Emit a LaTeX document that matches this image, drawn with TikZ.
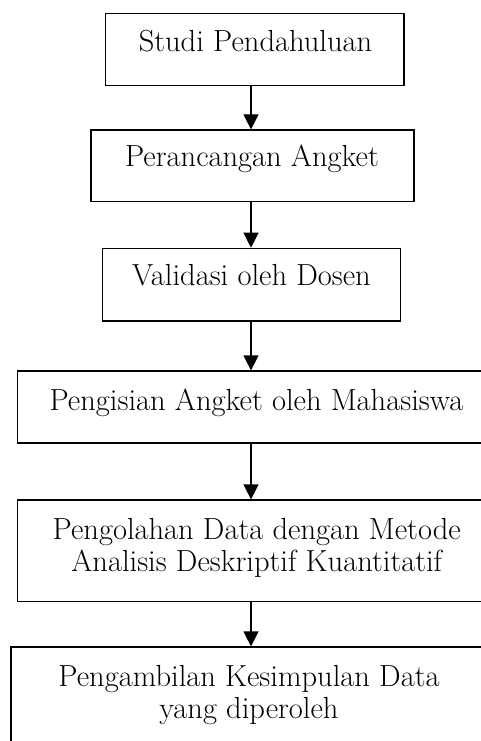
\documentclass[tikz,border=0pt]{standalone}
\usetikzlibrary{arrows.meta}
\begin{document}
\begin{tikzpicture}[x=1pt,y=-1pt,
  box/.style={draw=black,line width=1.2pt,inner sep=0pt,rectangle},
  lbl/.style={anchor=base,inner sep=0pt,font=\fontsize{30.5}{32}\selectfont},
  arr/.style={line width=1.2pt,-{Triangle[width=15pt,length=15pt]}}]
\clip (0,0) rectangle (481,741);
\fill[white] (0,0) rectangle (481,741);
% boxes
\node[box,minimum width=298.3pt,minimum height=72.2pt] (b1) at (254.85,49.6) {};
\node[box,minimum width=323pt,minimum height=71.7pt] (b2) at (252.5,165.85) {};
\node[box,minimum width=298pt,minimum height=72.7pt] (b3) at (251.7,284.65) {};
\node[box,minimum width=478.7pt,minimum height=72pt] (b4) at (256.65,407) {};
\node[box,minimum width=478.7pt,minimum height=101.7pt] (b5) at (256.65,550.85) {};
\node[box,minimum width=476pt,minimum height=113pt] (b6) at (249,703.5) {};
% labels
\node[lbl] (t1) at (255.5,51.7) {Studi Pendahuluan};
\node[lbl] (t2) at (252,166.7) {Perancangan Angket};
\node[lbl] (t3) at (251.5,285) {Validasi oleh Dosen};
\node[lbl] (t4) at (256.5,410) {Pengisian Angket oleh Mahasiswa};
\node[lbl] (t5a) at (256.7,539) {Pengolahan Data dengan Metode};
\node[lbl] (t5b) at (256.7,571) {Analisis Deskriptif Kuantitatif};
\node[lbl] (t6a) at (249,686.7) {Pengambilan Kesimpulan Data};
\node[lbl] (t6b) at (249,718) {yang diperoleh};
% arrows
\coordinate (col) at (251,0);
\draw[arr] (b1.south -| col) -- (b2.north -| col);
\draw[arr] (b2.south -| col) -- (b3.north -| col);
\draw[arr] (b3.south -| col) -- (b4.north -| col);
\draw[arr] (b4.south -| col) -- (b5.north -| col);
\draw[arr] (b5.south -| col) -- (b6.north -| col);
\end{tikzpicture}
\end{document}
